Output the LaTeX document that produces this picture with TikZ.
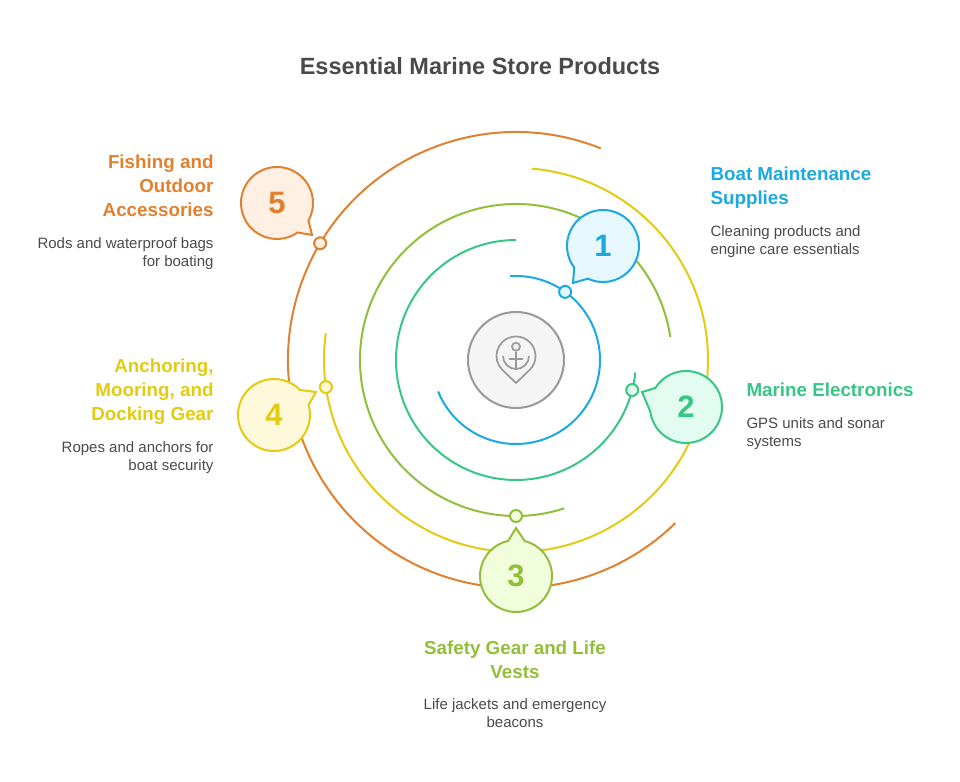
\documentclass[tikz,border=0pt]{standalone}
\usepackage{fontspec}
\setmainfont{Liberation Sans}
\usepackage{tikz}
\usetikzlibrary{positioning}
\definecolor{cblue}{HTML}{1CA9DF}
\definecolor{fblue}{HTML}{E6F7FE}
\definecolor{cgreen}{HTML}{36C785}
\definecolor{fgreen}{HTML}{E3FCF1}
\definecolor{colive}{HTML}{92BF39}
\definecolor{folive}{HTML}{F2FDDC}
\definecolor{cyellow}{HTML}{E3CB12}
\definecolor{fyellow}{HTML}{FEF9DB}
\definecolor{corange}{HTML}{E0812F}
\definecolor{forange}{HTML}{FFF0E3}
\definecolor{cgray}{HTML}{999999}
\definecolor{ctext}{HTML}{4A4A4A}

\begin{document}
\begin{tikzpicture}[x=1pt, y=1pt, line width=2pt,
			state/.style={circle,minimum size=72pt,inner sep=0pt,font=\fontsize{31}{31}\selectfont\bfseries},
			dot/.style={circle,draw,minimum size=12pt,inner sep=0pt},
			head/.style={inner sep=0pt,font=\fontsize{18.8}{24}\selectfont\bfseries,execute at begin node=\strut,execute at end node=\strut},
			desc/.style={inner sep=0pt,text=ctext,font=\fontsize{15}{18}\selectfont,execute at begin node=\strut,execute at end node=\strut}]
			
			\useasboundingbox (-516,-421) rectangle (444,360);
			
			% rings
			\draw[cblue] (94:84) arc[start angle=94, end angle=-158, radius=84];
			\draw[cgreen] (90:120) arc[start angle=90, end angle=354, radius=120];
			\draw[colive] (8.5:156) arc[start angle=8.5, end angle=288, radius=156];
			\draw[cyellow] (85.2:192) arc[start angle=85.2, end angle=-188, radius=192];
			\draw[corange] (68.2:228) arc[start angle=68.2, end angle=314.3, radius=228];
			
			% centre
			\node[circle,draw=cgray,fill=black!4,minimum size=96pt] (hub) at (0,0) {};
			\draw[cgray,line width=1.7pt] (0,-23) -- (13.5,-10.07) arc[start angle=-46.2, end angle=226.2, radius=19.5] -- cycle;
			\node[circle,draw=cgray,line width=1.7pt,minimum size=8pt,inner sep=0pt] (ring) at (0,13.3) {};
			\draw[cgray,line width=1.7pt] (ring) -- (0,-10);
			\draw[cgray,line width=1.7pt] (-7,1) -- (7,1);
			\draw[cgray,line width=1.7pt] (-13,4) arc[start angle=180, end angle=360, radius=13];
			
			% markers
			\node[dot,draw=cblue,fill=fblue] (m1) at (54.2:84) {};
			\node[dot,draw=cgreen,fill=fgreen] (m2) at (-14.5:120) {};
			\node[dot,draw=colive,fill=folive] (m3) at (-90:156) {};
			\node[dot,draw=cyellow,fill=fyellow] (m4) at (188.1:192) {};
			\node[dot,draw=corange,fill=forange] (m5) at (149.2:228) {};
			
			% bubbles
			\filldraw[draw=cblue,fill=fblue] (87,114) ++(245:36) arc[start angle=245, end angle=577, radius=36] -- (57,77) -- cycle;
			\node[state,text=cblue] (n1) at (87,114) {1};
			\filldraw[draw=cgreen,fill=fgreen] (170,-47) ++(187:36) arc[start angle=187, end angle=508, radius=36] -- (126,-32) -- cycle;
			\node[state,text=cgreen] (n2) at (170,-47) {2};
			\filldraw[draw=colive,fill=folive] (0,-216) ++(76:36) arc[start angle=76, end angle=-257.5, radius=36] -- (0,-168) -- cycle;
			\node[state,text=colive] (n3) at (0,-216) {3};
			\filldraw[draw=cyellow,fill=fyellow] (-242,-55) ++(44:36) arc[start angle=44, end angle=376, radius=36] -- (-200,-32) -- cycle;
			\node[state,text=cyellow] (n4) at (-242,-55) {4};
			\filldraw[draw=corange,fill=forange] (-239,157) ++(-29:36) arc[start angle=-29, end angle=305, radius=36] -- (-204,125) -- cycle;
			\node[state,text=corange] (n5) at (-239,157) {5};
			
			% texts
			\node[inner sep=0pt,text=ctext,font=\fontsize{23.5}{28}\selectfont\bfseries] (title) at (-36,294) {Essential Marine Store Products};
			
			\node[head,text=cblue,align=left,anchor=north west] (h1) at (193.5,194) {Boat Maintenance\\Supplies};
			\node[desc,align=left,below=12pt of h1.south west,anchor=north west] (d1) {Cleaning products and\\engine care essentials};
			
			\node[head,text=cgreen,align=left,anchor=north west] (h2) at (229.5,-19) {Marine Electronics};
			\node[desc,align=left,below=12pt of h2.south west,anchor=north west] (d2) {GPS units and sonar\\systems};
			
			\node[head,text=colive,align=center,anchor=north] (h3) at (-1,-280) {Safety Gear and Life\\Vests};
			\node[desc,align=center,below=11pt of h3] (d3) {Life jackets and emergency\\beacons};
			
			\node[head,text=cyellow,align=right,anchor=north east] (h4) at (-301.5,2) {Anchoring,\\Mooring, and\\Docking Gear};
			\node[desc,align=right,below=12pt of h4.south east,anchor=north east] (d4) {Ropes and anchors for\\boat security};
			
			\node[head,text=corange,align=right,anchor=north east] (h5) at (-301.5,206) {Fishing and\\Outdoor\\Accessories};
			\node[desc,align=right,below=12pt of h5.south east,anchor=north east] (d5) {Rods and waterproof bags\\for boating};
			\end{tikzpicture}
\end{document}
